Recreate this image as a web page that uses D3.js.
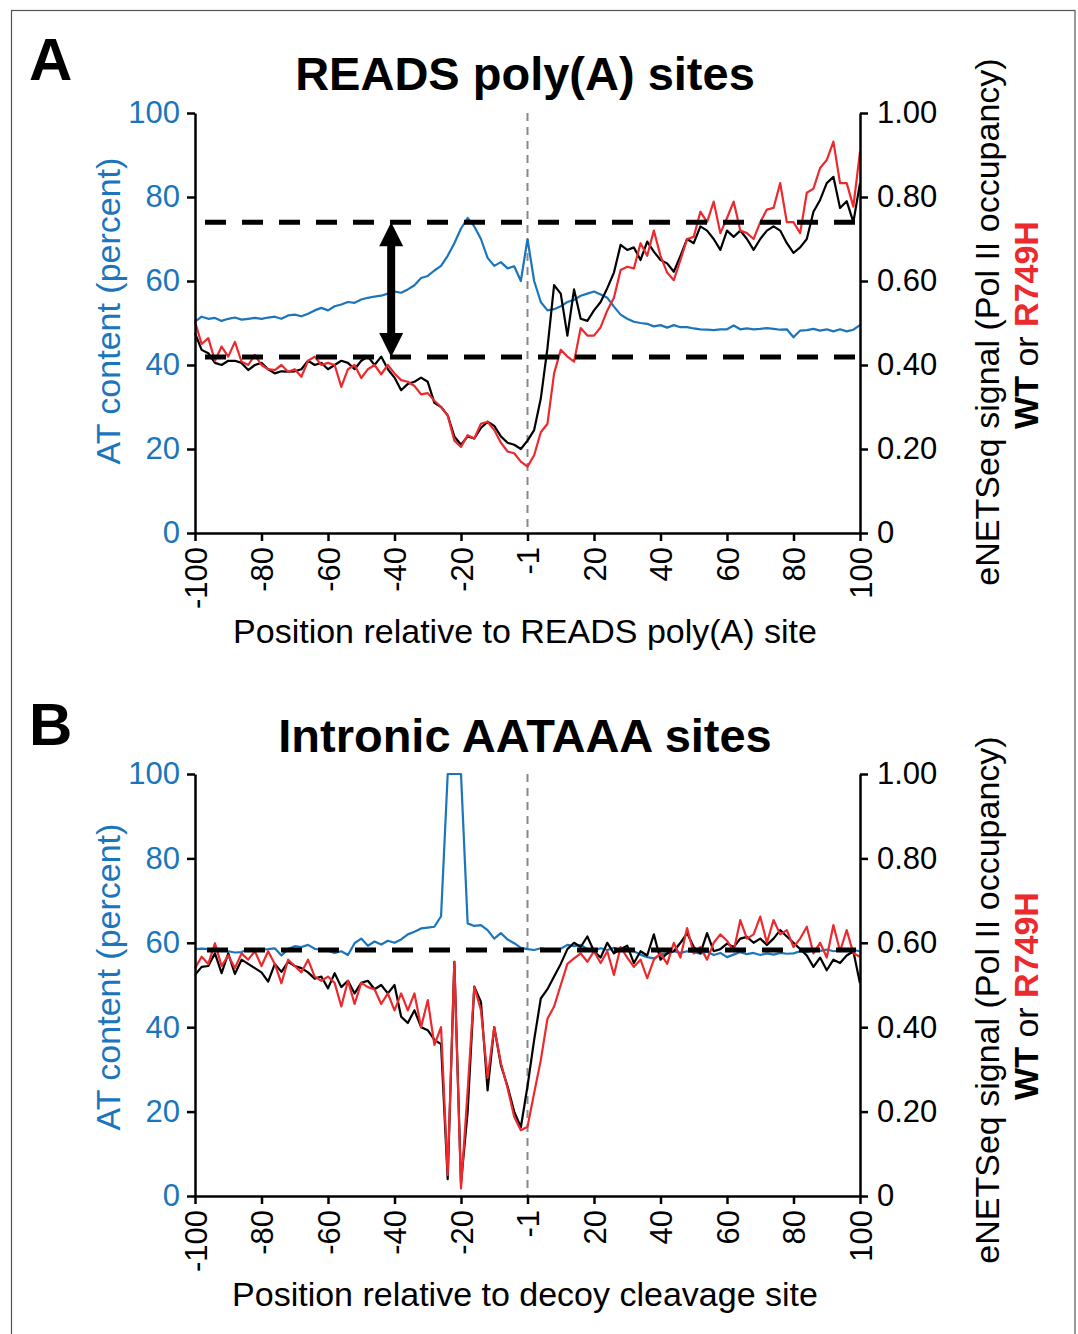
<!DOCTYPE html>
<html>
<head>
<meta charset="utf-8">
<script src="https://cdn.jsdelivr.net/npm/d3@7"></script>
<style>
  body { margin: 0; background: #fff; }
  svg { display: block; font-family: 'Liberation Sans', Arial, Helvetica, sans-serif; }
</style>
</head>
<body>
<div id="chart"></div>
<script>
// sample positions (every 2 nt), same for both panels
var positions = d3.range(-100, 101, 2)

var xTickValues = [-100, -80, -60, -40, -20, 0, 20, 40, 60, 80, 100]
var xTickLabels = ['-100', '-80', '-60', '-40', '-20', '-1', '20', '40', '60', '80', '100']
var atTicks = [0, 20, 40, 60, 80, 100]
var netTicks = [0, 0.2, 0.4, 0.6, 0.8, 1.0]
var netTickLabels = ['0', '0.20', '0.40', '0.60', '0.80', '1.00']

// Panel A: READS poly(A) sites
var atA = [50.3, 51.5, 51, 51.2, 50.5, 51, 51.3, 50.8, 51, 51.2, 51, 51.3, 51.5, 51, 51.8, 52, 51.6, 52.2, 53, 53.6,
  53, 54, 54.4, 55, 54.8, 55.6, 56, 56.3, 56.5, 57, 57.5, 57.2, 58, 59, 60.7, 61.2, 62.5, 63.6, 66, 69,
  72.5, 75, 73, 70, 65.5, 63.6, 64.5, 63, 63.5, 60, 70, 60, 55, 53, 53.3, 54, 55, 55.5, 56.5, 57,
  57.5, 56.8, 56, 53.9, 52, 51, 50.3, 50, 49.8, 49.2, 49.5, 48.9, 49.5, 49, 49, 48.7, 48.5, 48.4, 48.3, 48.5,
  48.5, 49.4, 48.5, 48.7, 48.5, 48.6, 48.8, 48.6, 48.4, 48.5, 46.6, 48.2, 48.3, 48.6, 48.2, 48.5, 48, 48.5, 48, 48.4, 49.5]
var wtA = [0.476, 0.436, 0.428, 0.405, 0.40, 0.41, 0.41, 0.405, 0.388, 0.40, 0.405, 0.39, 0.38, 0.385, 0.384, 0.385, 0.39, 0.41, 0.40, 0.405,
  0.39, 0.40, 0.41, 0.405, 0.39, 0.41, 0.42, 0.40, 0.42, 0.39, 0.37, 0.34, 0.355, 0.36, 0.37, 0.36, 0.31, 0.30, 0.28, 0.23,
  0.21, 0.23, 0.225, 0.25, 0.265, 0.255, 0.23, 0.215, 0.21, 0.20, 0.22, 0.245, 0.32, 0.44, 0.59, 0.57, 0.47, 0.58, 0.51, 0.505,
  0.53, 0.55, 0.583, 0.62, 0.686, 0.674, 0.68, 0.65, 0.694, 0.67, 0.65, 0.642, 0.622, 0.66, 0.70, 0.69, 0.73, 0.72, 0.70, 0.674,
  0.72, 0.705, 0.72, 0.70, 0.674, 0.70, 0.72, 0.73, 0.72, 0.69, 0.667, 0.68, 0.70, 0.765, 0.793, 0.833, 0.848, 0.774, 0.79, 0.74, 0.833]
var mutA = [0.503, 0.45, 0.464, 0.41, 0.444, 0.42, 0.455, 0.408, 0.40, 0.424, 0.40, 0.39, 0.388, 0.40, 0.384, 0.39, 0.372, 0.41, 0.42, 0.40,
  0.405, 0.40, 0.348, 0.39, 0.40, 0.369, 0.39, 0.40, 0.378, 0.40, 0.38, 0.364, 0.36, 0.35, 0.33, 0.333, 0.315, 0.30, 0.28, 0.22,
  0.205, 0.233, 0.225, 0.26, 0.265, 0.245, 0.215, 0.194, 0.19, 0.17, 0.158, 0.185, 0.24, 0.26, 0.38, 0.436, 0.42, 0.408, 0.488, 0.47,
  0.47, 0.49, 0.53, 0.56, 0.626, 0.634, 0.63, 0.69, 0.66, 0.72, 0.66, 0.62, 0.602, 0.65, 0.70, 0.705, 0.765, 0.74, 0.789, 0.714,
  0.75, 0.789, 0.72, 0.714, 0.70, 0.74, 0.77, 0.774, 0.833, 0.74, 0.74, 0.714, 0.81, 0.82, 0.869, 0.888, 0.932, 0.833, 0.833, 0.777, 0.908]

// Panel B: intronic AATAAA sites
var atB = [58.5, 58.6, 58.5, 58.4, 58.2, 58, 57.7, 57.8, 58.5, 58.2, 58.4, 58.5, 58.7, 57, 58.5, 59.2, 59, 59.5, 58.6, 58.3,
  58.1, 57.6, 58, 57.1, 59.9, 61, 59.3, 60.3, 59.6, 60.5, 60, 60.8, 62, 62.6, 63.4, 63.6, 63.8, 66.3, 100, 100,
  100, 64.6, 64, 64.2, 63, 61, 62.3, 60.8, 59.9, 58.8, 58.5, 58.3, 58.7, 58.4, 58.2, 58.6, 59.5, 59.2, 59.5, 58.5,
  58.2, 58.7, 58.3, 58.8, 58.1, 58.4, 58, 57.2, 56.6, 56.3, 57.2, 57.5, 58, 57.6, 58, 57.8, 57.4, 57.9, 57.1, 57.6,
  56.6, 57.2, 57.8, 57.3, 57.6, 57.1, 57.5, 57.2, 57.6, 57.4, 57.5, 58, 57.8, 58.3, 58.1, 58.4, 58, 58.2, 58.4, 58.3, 58]
var wtB = [0.524, 0.543, 0.545, 0.575, 0.528, 0.575, 0.526, 0.56, 0.55, 0.54, 0.53, 0.508, 0.55, 0.531, 0.555, 0.545, 0.54, 0.53, 0.515, 0.52,
  0.492, 0.528, 0.495, 0.51, 0.48, 0.505, 0.51, 0.49, 0.50, 0.48, 0.50, 0.425, 0.41, 0.44, 0.40, 0.393, 0.37, 0.36, 0.04, 0.555,
  0.03, 0.20, 0.496, 0.46, 0.25, 0.40, 0.31, 0.26, 0.20, 0.163, 0.26, 0.37, 0.468, 0.49, 0.52, 0.55, 0.585, 0.60, 0.59, 0.615,
  0.58, 0.565, 0.60, 0.575, 0.585, 0.593, 0.552, 0.58, 0.57, 0.62, 0.56, 0.575, 0.58, 0.60, 0.623, 0.59, 0.575, 0.623, 0.58, 0.585,
  0.598, 0.59, 0.61, 0.614, 0.60, 0.61, 0.595, 0.61, 0.63, 0.615, 0.60, 0.585, 0.57, 0.543, 0.565, 0.535, 0.56, 0.552, 0.57, 0.58, 0.504]
var mutB = [0.54, 0.567, 0.55, 0.599, 0.545, 0.57, 0.54, 0.575, 0.56, 0.58, 0.545, 0.58, 0.55, 0.504, 0.56, 0.545, 0.53, 0.56, 0.52, 0.51,
  0.52, 0.505, 0.449, 0.51, 0.455, 0.505, 0.495, 0.49, 0.455, 0.48, 0.44, 0.48, 0.44, 0.48, 0.40, 0.464, 0.358, 0.40, 0.05, 0.555,
  0.018, 0.25, 0.496, 0.44, 0.28, 0.40, 0.315, 0.256, 0.188, 0.156, 0.164, 0.244, 0.322, 0.42, 0.449, 0.50, 0.55, 0.563, 0.575, 0.555,
  0.58, 0.552, 0.58, 0.524, 0.59, 0.565, 0.543, 0.56, 0.516, 0.56, 0.575, 0.55, 0.60, 0.565, 0.635, 0.575, 0.59, 0.56, 0.60, 0.62,
  0.605, 0.58, 0.654, 0.61, 0.62, 0.662, 0.60, 0.654, 0.62, 0.63, 0.59, 0.61, 0.638, 0.575, 0.60, 0.565, 0.642, 0.58, 0.63, 0.575, 0.567]

var blue = '#1b75bc'
var red = '#ec2a2e'

var svg = d3.select('#chart')
  .append('svg')
  .attr('width', 1078)
  .attr('height', 1334)

// outer frame
svg.append('rect')
  .attr('x', 11.5)
  .attr('y', 10.5)
  .attr('width', 1063.5)
  .attr('height', 1400)
  .attr('fill', 'none')
  .attr('stroke', '#555')
  .attr('stroke-width', 1.2)

var x = d3.scaleLinear()
  .domain([-100, 100])
  .range([195, 860])

function drawPanel (p) {
  var yAT = d3.scaleLinear().domain([0, 100]).range([p.bottom, p.top])
  var yNet = d3.scaleLinear().domain([0, 1]).range([p.bottom, p.top])
  var g = svg.append('g')

  // panel letter + title
  g.append('text')
    .attr('x', 29)
    .attr('y', p.letterY)
    .attr('font-size', 60)
    .attr('font-weight', 'bold')
    .text(p.letter)
  g.append('text')
    .attr('x', 525)
    .attr('y', p.titleY)
    .attr('text-anchor', 'middle')
    .attr('font-size', 47)
    .attr('font-weight', 'bold')
    .text(p.title)

  // grey dashed line at the site
  g.append('line')
    .attr('x1', x(0)).attr('x2', x(0))
    .attr('y1', p.top).attr('y2', p.bottom)
    .attr('stroke', '#888')
    .attr('stroke-width', 2)
    .attr('stroke-dasharray', '8,6')

  var lineAT = d3.line()
    .x(function (d, i) { return x(positions[i]) })
    .y(function (d) { return yAT(d) })
  var lineNet = d3.line()
    .x(function (d, i) { return x(positions[i]) })
    .y(function (d) { return yNet(d) })

  g.append('path').datum(p.at)
    .attr('d', lineAT)
    .attr('fill', 'none')
    .attr('stroke', blue)
    .attr('stroke-width', 2.2)
    .attr('stroke-linejoin', 'round')
  g.append('path').datum(p.wt)
    .attr('d', lineNet)
    .attr('fill', 'none')
    .attr('stroke', '#000')
    .attr('stroke-width', 2.2)
    .attr('stroke-linejoin', 'round')
  g.append('path').datum(p.mut)
    .attr('d', lineNet)
    .attr('fill', 'none')
    .attr('stroke', red)
    .attr('stroke-width', 2.2)
    .attr('stroke-linejoin', 'round')

  // black dashed reference lines
  g.selectAll('line.ref')
    .data(p.refs)
    .enter().append('line')
    .attr('class', 'ref')
    .attr('x1', p.refStart)
    .attr('x2', 856)
    .attr('y1', function (d) { return yAT(d) })
    .attr('y2', function (d) { return yAT(d) })
    .attr('stroke', '#000')
    .attr('stroke-width', 5)
    .attr('stroke-dasharray', '21,16')

  // double headed arrow between the two reference lines
  if (p.arrowAt !== undefined) {
    var ax = x(p.arrowAt)
    var y1 = yAT(p.refs[0])
    var y2 = yAT(p.refs[1])
    g.append('line')
      .attr('x1', ax).attr('x2', ax)
      .attr('y1', y1 + 15).attr('y2', y2 - 15)
      .attr('stroke', '#000')
      .attr('stroke-width', 8)
    g.append('path')
      .attr('d', 'M' + ax + ',' + y1 + 'L' + (ax - 12) + ',' + (y1 + 24) + 'L' + (ax + 12) + ',' + (y1 + 24) + 'Z')
    g.append('path')
      .attr('d', 'M' + ax + ',' + y2 + 'L' + (ax - 12) + ',' + (y2 - 24) + 'L' + (ax + 12) + ',' + (y2 - 24) + 'Z')
  }

  // axes
  var left = g.append('g')
    .attr('transform', 'translate(195,0)')
    .call(d3.axisLeft(yAT).tickValues(atTicks).tickSize(8).tickPadding(7).tickSizeOuter(0))
  left.selectAll('text').attr('fill', blue).attr('font-size', 31).attr('font-family', null)

  var right = g.append('g')
    .attr('transform', 'translate(860,0)')
    .call(d3.axisRight(yNet).tickValues(netTicks).tickSize(8).tickPadding(9).tickSizeOuter(0)
      .tickFormat(function (d, i) { return netTickLabels[i] }))
  right.selectAll('text').attr('fill', '#000').attr('font-size', 31).attr('font-family', null)

  var bottom = g.append('g')
    .attr('transform', 'translate(0,' + p.bottom + ')')
    .call(d3.axisBottom(x).tickValues(xTickValues).tickSize(8).tickSizeOuter(0)
      .tickFormat(function (d, i) { return xTickLabels[i] }))
  bottom.selectAll('text')
    .attr('font-size', 31)
    .attr('font-family', null)
    .attr('fill', '#000')
    .attr('transform', 'rotate(-90)')
    .attr('text-anchor', 'end')
    .attr('x', -14)
    .attr('y', 0)
    .attr('dy', '0.36em')

  g.selectAll('.domain, .tick line')
    .attr('stroke', '#000')
    .attr('stroke-width', 2.5)

  // axis titles
  g.append('text')
    .attr('x', 525)
    .attr('y', p.xLabelY)
    .attr('text-anchor', 'middle')
    .attr('font-size', 34)
    .text(p.xLabel)
  g.append('text')
    .attr('transform', 'translate(120,' + p.leftLabelY + ') rotate(-90)')
    .attr('text-anchor', 'middle')
    .attr('font-size', 34)
    .attr('fill', blue)
    .text('AT content (percent)')
  g.append('text')
    .attr('transform', 'translate(999,' + p.rightLabelY + ') rotate(-90)')
    .attr('text-anchor', 'middle')
    .attr('font-size', 34)
    .text('eNETSeq signal (Pol II occupancy)')
  var leg = g.append('text')
    .attr('transform', 'translate(1038,' + p.legendY + ') rotate(-90)')
    .attr('text-anchor', 'middle')
    .attr('font-size', 34)
  leg.append('tspan').attr('font-weight', 'bold').text('WT')
  leg.append('tspan').text(' or ')
  leg.append('tspan').attr('font-weight', 'bold').attr('fill', red).text('R749H')
}

drawPanel({
  letter: 'A', letterY: 80, title: 'READS poly(A) sites', titleY: 90,
  top: 113, bottom: 533,
  at: atA, wt: wtA, mut: mutA,
  refs: [74, 41.9], refStart: 205, arrowAt: -41,
  xLabel: 'Position relative to READS poly(A) site', xLabelY: 643,
  leftLabelY: 311, rightLabelY: 322, legendY: 325
})

drawPanel({
  letter: 'B', letterY: 745, title: 'Intronic AATAAA sites', titleY: 752,
  top: 774, bottom: 1196,
  at: atB, wt: wtB, mut: mutB,
  refs: [58.3], refStart: 207,
  xLabel: 'Position relative to decoy cleavage site', xLabelY: 1306,
  leftLabelY: 977, rightLabelY: 1000, legendY: 996
})
</script>
</body>
</html>
